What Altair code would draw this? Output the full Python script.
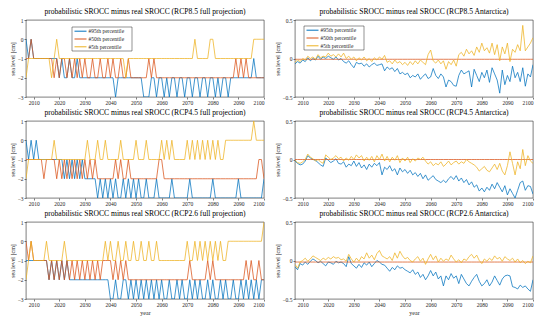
import altair as alt
import pandas as pd

YEARS = list(range(2007, 2101))
XTICKS = [2010, 2020, 2030, 2040, 2050, 2060, 2070, 2080, 2090, 2100]
SERIES = ["#95th percentile", "#50th percentile", "#5th percentile"]
COLORS = ["#0072BD", "#D95319", "#EDB120"]

TITLES = [
    "probabilistic SROCC minus real SROCC (RCP8.5 full projection)",
    "probabilistic SROCC minus real SROCC (RCP8.5 Antarctica)",
    "probabilistic SROCC minus real SROCC (RCP4.5 full projection)",
    "probabilistic SROCC minus real SROCC (RCP4.5 Antarctica)",
    "probabilistic SROCC minus real SROCC (RCP2.6 full projection)",
    "probabilistic SROCC minus real SROCC (RCP2.6 Antarctica)",
]

# ---------------- RCP8.5 full projection [cm] ----------------
BLUE_85F = [0, -1, 0, -1, -1, -1, -1, -1, -1, -1,
            -1, -1, -1, -2, -1, -2, -2, -1, -2, -2,
            -1, -2, -2, -2, -2, -2, -2, -2, -2, -2,
            -2, -2, -2, -2, -2, -3, -2, -2, -2, -2,
            -2, -2, -2, -2, -2, -2, -3, -3, -3, -2,
            -2, -3, -2, -2, -3, -2, -3, -2, -2, -3,
            -2, -2, -3, -2, -2, -3, -2, -2, -3, -2,
            -2, -3, -2, -2, -3, -2, -3, -2, -2, -3,
            -2, -2, -2, -2, -2, -2, -2, -2, -2, -1,
            -2, -2, -2, -2]
ORANGE_85F = [-1, -1, 0, -1, -1, -1, -1, -1, -1, -1,
              -1, -2, -1, -2, -1, -1, -2, -1, -2, -1,
              -2, -1, -2, -1, -2, -2, -1, -2, -2, -1,
              -2, -2, -1, -2, -1, -2, -2, -1, -2, -2,
              -1, -2, -2, -2, -2, -2, -2, -2, -1, -2,
              -1, -2, -2, -2, -2, -2, -2, -2, -2, -2,
              -2, -2, -2, -2, -2, -2, -2, -2, -2, -2,
              -2, -2, -2, -2, -2, -2, -2, -2, -2, -2,
              -2, -2, -1, -2, -1, -2, -1, -2, -2, -2,
              -2, -2, -2, -2]
YELLOW_85F = [-2, -1, -1, -1, -1, -1, -1, -1, -1, -1,
              -2, -1, 0, -1, -1, -1, -1, -1, -1, -1,
              -1, -1, -1, -1, -1, -1, -1, -1, -1, -1,
              -1, -1, -1, -1, -1, -1, -1, -1, -1, -2,
              -1, -1, -1, -1, -1, -1, -1, -1, -1, -1,
              -1, -1, -1, -1, -1, -1, -1, -1, -1, -1,
              -1, -1, -1, -1, -1, -1, 0, -1, -1, -1,
              -1, -1, 0, 0, -1, -1, -1, -1, -1, -1,
              -1, -1, -1, -1, -1, -1, -1, -1, -1, 0,
              0, 0, 0, 0]

# ---------------- RCP8.5 Antarctica [cm] ----------------
BLUE_85A = [-0.07, -0.04, -0.06, -0.02, -0.04, 0.01, -0.03, 0.00, -0.02, 0.03,
            -0.01, 0.02, 0.00, 0.03, 0.01, -0.01, 0.02, -0.02, 0.00, -0.04,
            -0.06, -0.03, -0.08, -0.12, -0.05, -0.07, -0.06, -0.10, -0.07, -0.11,
            -0.08, -0.06, -0.09, -0.08, -0.07, -0.16, -0.11, -0.14, -0.12, -0.17,
            -0.13, -0.20, -0.18, -0.21, -0.19, -0.25, -0.22, -0.24, -0.20, -0.27,
            -0.23, -0.20, -0.26, -0.24, -0.13, -0.22, -0.26, -0.20, -0.24, -0.37,
            -0.28, -0.30, -0.35, -0.36, -0.22, -0.15, -0.20, -0.18, -0.16, -0.37,
            -0.14, -0.22, -0.30, -0.18, -0.25, -0.15, -0.31, -0.12, -0.20, -0.28,
            -0.45, -0.15, -0.34, -0.22, -0.30, -0.10, -0.25, -0.18, -0.30, -0.12,
            -0.36, -0.20, -0.24, -0.08]
ORANGE_85A = [-0.01, -0.01, -0.01, -0.01, -0.01, -0.01, -0.01, -0.01, -0.01, -0.01,
              -0.01, -0.01, -0.01, -0.01, -0.01, -0.01, -0.01, -0.01, -0.01, -0.01,
              -0.01, -0.01, -0.01, -0.01, -0.01, -0.01, -0.01, -0.01, -0.01, -0.01,
              -0.01, -0.01, -0.01, -0.01, -0.01, -0.01, -0.01, -0.01, -0.01, -0.01,
              -0.01, -0.01, -0.01, -0.01, -0.01, -0.01, -0.01, -0.01, -0.01, -0.01,
              -0.01, -0.01, -0.01, -0.01, -0.01, -0.01, -0.01, -0.01, -0.01, -0.01,
              -0.01, -0.01, -0.01, -0.01, -0.01, -0.01, -0.01, -0.01, -0.01, -0.01,
              -0.01, -0.01, -0.01, -0.01, -0.01, -0.01, -0.01, -0.01, -0.01, -0.01,
              -0.01, -0.01, -0.01, -0.01, -0.01, -0.01, -0.01, -0.01, -0.01, -0.01,
              -0.01, -0.01, -0.01, -0.01]
YELLOW_85A = [-0.05, -0.02, -0.04, 0.00, -0.02, 0.03, 0.00, 0.02, -0.01, 0.05,
              0.01, 0.03, 0.02, 0.07, 0.03, 0.05, 0.02, 0.06, 0.02, 0.07,
              0.00, 0.03, -0.01, 0.02, -0.03, 0.01, -0.02, 0.02, -0.03, 0.00,
              -0.04, 0.01, -0.02, 0.02, -0.01, 0.04, -0.05, -0.03, -0.07, -0.02,
              -0.06, -0.04, -0.08, -0.05, -0.09, -0.04, -0.08, -0.03, -0.07, -0.02,
              -0.05, -0.08, 0.05, 0.11, -0.03, -0.06, -0.02, -0.07, -0.03, -0.14,
              -0.04, -0.08, -0.02, -0.10, 0.05, 0.08, 0.03, 0.12, 0.06, 0.10,
              0.04, 0.15, 0.08, 0.20, 0.10, 0.14, 0.07, 0.20, 0.05, 0.18,
              -0.03, 0.15, 0.06, 0.20, -0.04, 0.12, 0.08, 0.18, 0.10, 0.43,
              0.10, 0.15, 0.20, 0.27]

# ---------------- RCP4.5 full projection [cm] ----------------
BLUE_45F = [0, -1, 0, -1, 0, -1, -1, -1, -1, -1,
            -1, -1, -1, -1, -1, -2, -1, -2, -1, -2,
            -1, -2, -1, -2, -2, -2, -2, -2, -3, -2,
            -3, -2, -3, -2, -3, -2, -3, -3, -2, -3,
            -2, -3, -2, -3, -2, -3, -3, -2, -3, -3,
            -3, -2, -3, -3, -3, -3, -3, -2, -3, -3,
            -3, -3, -3, -3, -2, -3, -3, -3, -3, -3,
            -3, -3, -3, -2, -3, -3, -3, -3, -3, -3,
            -3, -3, -3, -2, -3, -3, -3, -3, -3, -3,
            -3, -3, -3, -2]
ORANGE_45F = [-1, -1, -1, -1, -1, -1, -1, -2, -1, -1,
              -1, -1, -2, -1, -2, -1, -2, -1, -2, -1,
              -2, -1, -2, -1, -2, -1, -2, -1, -2, -2,
              -2, -2, -2, -2, -2, -1, -2, -1, -2, -2,
              -1, -2, -2, -2, -2, -2, -2, -2, -2, -2,
              -2, -2, -1, -1, -2, -2, -2, -2, -2, -2,
              -2, -2, -2, -2, -2, -2, -2, -2, -2, -2,
              -2, -2, -2, -2, -2, -2, -2, -2, -2, -2,
              -2, -2, -2, -2, -2, -2, -2, -2, -2, -2,
              -2, -1, -1, -2]
YELLOW_45F = [-2, -1, -1, -1, -1, -1, -1, -1, -1, -1,
              -1, 0, -1, -1, -1, -1, -1, -1, -1, -1,
              -1, -1, -1, -1, 0, -1, -1, -1, 0, -1,
              -1, 0, -1, -1, -1, -1, -1, 0, -1, -1,
              -1, -1, -1, 0, -1, -1, -1, 0, -1, -1,
              -1, -1, -1, 0, -1, 0, -1, 0, -1, -1,
              -1, -1, -1, 0, -1, 0, -1, 0, -1, 0,
              -1, 0, -1, 0, -1, 0, -1, -1, 0, 0,
              0, 0, 0, 0, 0, 0, 0, 0, 0, 1,
              0, 0, 0, 0]

# ---------------- RCP4.5 Antarctica [cm] ----------------
BLUE_45A = [-0.02, -0.05, -0.07, -0.06, -0.02, 0.05, 0.02, 0.00, -0.01, -0.04,
            -0.07, -0.09, 0.02, -0.01, -0.04, -0.02, 0.01, -0.05, -0.06, -0.03,
            -0.10, -0.06, -0.08, -0.02, -0.09, -0.04, -0.11, -0.07, -0.13, -0.06,
            -0.10, -0.05, -0.08, -0.04, -0.20, -0.10, -0.13, -0.08, -0.15, -0.12,
            -0.20, -0.11, -0.16, -0.13, -0.18, -0.14, -0.20, -0.17, -0.22, -0.18,
            -0.25, -0.20, -0.27, -0.24, -0.21, -0.26, -0.28, -0.30, -0.27, -0.30,
            -0.25, -0.22, -0.26, -0.21, -0.28, -0.24, -0.30, -0.26, -0.33, -0.29,
            -0.36, -0.33, -0.41, -0.37, -0.42, -0.36, -0.40, -0.32, -0.38, -0.30,
            -0.36, -0.42, -0.34, -0.46, -0.38, -0.44, -0.50, -0.40, -0.30, -0.28,
            -0.40, -0.34, -0.35, -0.45]
ORANGE_45A = [0.00, 0.00, 0.00, 0.00, 0.00, 0.00, 0.00, 0.00, 0.00, 0.00,
              0.00, 0.00, 0.00, 0.00, 0.00, 0.00, 0.00, 0.00, 0.00, 0.00,
              0.00, 0.00, 0.00, 0.00, 0.00, 0.00, 0.00, 0.00, 0.00, 0.00,
              0.00, 0.00, 0.00, 0.00, 0.00, 0.00, 0.00, 0.00, 0.00, 0.00,
              0.00, 0.00, 0.00, 0.00, 0.00, 0.00, 0.00, 0.00, 0.00, 0.00,
              0.00, 0.00, 0.00, 0.00, 0.00, 0.00, 0.00, 0.00, 0.00, 0.00,
              0.00, 0.00, 0.00, 0.00, 0.00, 0.00, 0.00, 0.00, 0.00, 0.00,
              0.00, 0.00, 0.00, 0.00, 0.00, 0.00, 0.00, 0.00, 0.00, 0.00,
              0.00, 0.00, 0.00, 0.00, 0.00, 0.00, 0.00, 0.00, 0.00, 0.00,
              0.00, 0.00, 0.00, 0.00]
YELLOW_45A = [-0.01, -0.04, -0.05, -0.03, 0.00, 0.07, 0.03, 0.01, -0.02, 0.00,
              -0.03, -0.05, 0.06, 0.03, 0.00, 0.02, 0.05, 0.01, 0.03, -0.02,
              0.02, -0.01, 0.04, 0.00, 0.06, 0.02, 0.05, -0.02, 0.03, -0.01,
              0.04, -0.03, 0.05, 0.00, 0.07, -0.02, 0.04, -0.03, 0.03, -0.01,
              0.05, -0.04, 0.02, -0.02, 0.03, -0.04, 0.01, -0.02, 0.02, 0.00,
              0.03, -0.02, -0.06, -0.03, -0.08, -0.05, -0.07, -0.03, -0.09, -0.06,
              -0.02, -0.07, -0.04, -0.02, -0.06, -0.03, -0.05, 0.00, -0.03, -0.05,
              -0.07, -0.10, -0.15, -0.12, -0.09, -0.14, -0.16, -0.11, -0.06, -0.13,
              -0.05, -0.15, -0.20, -0.08, 0.10, -0.05, -0.20, -0.03, -0.12, 0.13,
              -0.08, 0.05, -0.02, -0.05]

# ---------------- RCP2.6 full projection [cm] ----------------
BLUE_26F = [-1, -1, -1, -1, -1, -1, -1, -1, -1, -2,
            -1, -2, -1, -2, -1, -2, -1, -2, -2, -2,
            -2, -2, -2, -2, -2, -2, -2, -2, -2, -2,
            -2, -2, -2, -3, -3, -2, -3, -3, -2, -2,
            -3, -2, -3, -2, -3, -2, -3, -2, -3, -2,
            -3, -2, -3, -2, -3, -3, -2, -3, -3, -2,
            -3, -2, -3, -3, -2, -3, -2, -3, -2, -3,
            -3, -2, -3, -2, -3, -3, -2, -3, -2, -3,
            -3, -2, -3, -3, -2, -3, -2, -3, -2, -3,
            -2, -3, -2, -2]
ORANGE_26F = [0, -1, 0, -1, -1, -1, -1, -1, -1, -2,
              -1, -2, -1, -2, -1, -2, -1, -2, -1, -2,
              -1, -2, -1, -2, -1, -2, -1, -2, -1, -2,
              -1, -1, -1, -1, -2, -1, -2, -1, -2, -1,
              -2, -2, -2, -2, -2, -2, -2, -2, -2, -2,
              -2, -2, -2, -2, -2, -2, -2, -2, -2, -2,
              -2, -2, -2, -2, -1, -2, -2, -2, -2, -2,
              -2, -1, -2, -1, -2, -2, -2, -2, -2, -2,
              -2, -2, -2, -2, -2, -2, -1, -2, -1, -2,
              -2, -1, -2, -2]
YELLOW_26F = [-2, -1, 0, -1, -1, -1, -1, -1, 0, -1,
              -1, -1, -1, -1, -1, 0, -1, -1, -1, -1,
              -1, -1, -1, -1, -1, -1, -1, -1, -1, -1,
              -1, 0, -1, 0, -1, -1, 0, -1, -1, 0,
              -1, -1, 0, -1, -1, 0, -1, -1, 0, -1,
              -1, 0, -1, -1, -1, -1, -1, -1, -1, -1,
              -1, -1, -1, 0, -1, -1, 0, -1, 0, -1,
              0, -1, 0, -1, 0, -1, 0, -1, -1, 0,
              0, 0, 0, 0, 0, 0, 0, 0, 0, 0,
              0, 0, 0, 1]

# ---------------- RCP2.6 Antarctica [cm] ----------------
BLUE_26A = [-0.08, -0.12, -0.04, -0.06, -0.02, -0.05, -0.01, 0.02, 0.00, -0.03,
            -0.01, -0.04, -0.07, -0.02, -0.03, -0.05, -0.01, -0.03, -0.02, -0.04,
            -0.08, 0.05, -0.04, -0.07, -0.10, -0.05, -0.09, -0.03, -0.06, -0.02,
            -0.08, -0.04, 0.00, -0.02, -0.05, -0.06, -0.10, -0.14, -0.09, -0.12,
            -0.07, -0.10, -0.09, -0.12, -0.14, -0.16, -0.12, -0.18, -0.15, -0.22,
            -0.18, -0.25, -0.20, -0.13, -0.20, -0.15, -0.24, -0.20, -0.33, -0.20,
            -0.25, -0.17, -0.23, -0.20, -0.30, -0.18, -0.24, -0.30, -0.33, -0.27,
            -0.22, -0.18, -0.27, -0.33, -0.30, -0.25, -0.33, -0.28, -0.20, -0.26,
            -0.32, -0.24, -0.20, -0.19, -0.20, -0.34, -0.35, -0.37, -0.32, -0.35,
            -0.33, -0.37, -0.40, -0.25]
ORANGE_26A = [-0.02, -0.02, -0.02, -0.02, -0.02, -0.02, -0.02, -0.02, -0.02, -0.02,
              -0.02, -0.02, -0.02, -0.02, -0.02, -0.02, -0.02, -0.02, -0.02, -0.02,
              -0.02, -0.02, -0.02, -0.02, -0.02, -0.02, -0.02, -0.02, -0.02, -0.02,
              -0.02, -0.02, -0.02, -0.02, -0.02, -0.02, -0.02, -0.02, -0.02, -0.02,
              -0.02, -0.02, -0.02, -0.02, -0.02, -0.02, -0.02, -0.02, -0.02, -0.02,
              -0.02, -0.02, -0.02, -0.02, -0.02, -0.02, -0.02, -0.02, -0.02, -0.02,
              -0.02, -0.02, -0.02, -0.02, -0.02, -0.02, -0.02, -0.02, -0.02, -0.02,
              -0.02, -0.02, -0.02, -0.02, -0.02, -0.02, -0.02, -0.02, -0.02, -0.02,
              -0.02, -0.02, -0.02, -0.02, -0.02, -0.02, -0.02, -0.02, -0.02, -0.02,
              -0.02, -0.02, -0.02, -0.02]
YELLOW_26A = [-0.05, -0.10, -0.02, 0.00, 0.03, -0.01, 0.02, 0.06, 0.04, 0.02,
              0.00, 0.03, 0.01, 0.04, 0.02, 0.05, 0.03, 0.04, 0.01, 0.02,
              -0.01, 0.08, 0.02, -0.02, 0.03, -0.01, 0.05, 0.02, 0.10, 0.03,
              0.07, 0.01, 0.09, 0.13, 0.06, 0.04, 0.02, 0.05, 0.00, 0.10,
              0.03, 0.12, 0.06, 0.02, 0.04, 0.00, -0.02, 0.02, 0.05, -0.01,
              0.03, -0.05, 0.02, 0.08, 0.01, 0.06, -0.02, 0.03, -0.01, 0.02,
              0.00, 0.07, 0.02, -0.02, 0.01, -0.03, 0.02, 0.00, 0.05, 0.08,
              0.03, 0.07, 0.00, -0.04, 0.02, -0.01, 0.03, 0.00, 0.06, 0.02,
              0.04, -0.01, 0.05, 0.02, 0.00, 0.03, -0.02, 0.02, -0.03, 0.00,
              -0.04, -0.01, -0.03, 0.06]

FONT = "Liberation Serif"
INK = "#262626"
W, H = 238, 77
LW = 0.75
COLOR_SCALE = alt.Scale(domain=SERIES, range=COLORS)


def make_df(blue, orange, yellow):
    rows = []
    for name, vals in zip(SERIES, [blue, orange, yellow]):
        if len(vals) != len(YEARS):
            raise ValueError(f"{name}: {len(vals)} values")
        for yr, v in zip(YEARS, vals):
            rows.append({"year": yr, "value": float(v), "series": name})
    return pd.DataFrame(rows)


def legend_layers(lx, ly, bw=60, bh=24):
    """In-plot legend box (MATLAB style) drawn as marks."""
    ldf = pd.DataFrame({"series": SERIES, "row": [0, 1, 2]})
    yscale = alt.Scale(domain=[0, 2], range=[ly + 4.2, ly + 19.8])
    box = alt.Chart(pd.DataFrame({"k": [0]})).mark_rect(
        fill="white", stroke=INK, strokeWidth=0.5
    ).encode(x=alt.value(lx), x2=alt.value(lx + bw), y=alt.value(ly), y2=alt.value(ly + bh))
    sym = alt.Chart(ldf).mark_rule(strokeWidth=1).encode(
        x=alt.value(lx + 2.5), x2=alt.value(lx + 14.5),
        y=alt.Y("row:Q", scale=yscale, axis=None),
        color=alt.Color("series:N", scale=COLOR_SCALE, legend=None),
    )
    txt = alt.Chart(ldf).mark_text(
        align="left", baseline="middle", fontSize=5.5, font=FONT, color=INK
    ).encode(
        x=alt.value(lx + 16.5),
        y=alt.Y("row:Q", scale=yscale, axis=None),
        text="series:N",
    )
    return [box, sym, txt]


def panel(df, title, ydom, yticks, yfmt, legend_xy=None, xtitle=False):
    xaxis = dict(values=XTICKS, format="d")
    xaxis["title"] = "year" if xtitle else None
    lines = alt.Chart(df).mark_line(strokeWidth=LW, clip=True).encode(
        x=alt.X("year:Q", scale=alt.Scale(domain=[2007, 2100], nice=False, zero=False),
                axis=alt.Axis(**xaxis)),
        y=alt.Y("value:Q", scale=alt.Scale(domain=ydom, nice=False, zero=False),
                axis=alt.Axis(values=yticks, format=yfmt, title="sea level [cm]")),
        color=alt.Color("series:N", scale=COLOR_SCALE, sort=SERIES, legend=None),
    )
    layers = [lines]
    if legend_xy is not None:
        layers += legend_layers(*legend_xy)
    ch = alt.layer(*layers)
    if legend_xy is not None:
        ch = ch.resolve_scale(y="independent")
    return ch.properties(width=W, height=H,
                         title=alt.TitleParams(title, fontSize=7.6, font=FONT,
                                               fontWeight="normal", offset=2, color="black"))


FULL_DOM, FULL_TICKS = [-3, 1], [-3, -2, -1, 0, 1]
ANT_DOM, ANT_TICKS = [-0.5, 0.5], [-0.5, 0, 0.5]

p1 = panel(make_df(BLUE_85F, ORANGE_85F, YELLOW_85F), TITLES[0], FULL_DOM, FULL_TICKS, "d", (46, 7))
p2 = panel(make_df(BLUE_85A, ORANGE_85A, YELLOW_85A), TITLES[1], ANT_DOM, ANT_TICKS, "~g", (9, 6))
p3 = panel(make_df(BLUE_45F, ORANGE_45F, YELLOW_45F), TITLES[2], FULL_DOM, FULL_TICKS, "d")
p4 = panel(make_df(BLUE_45A, ORANGE_45A, YELLOW_45A), TITLES[3], ANT_DOM, ANT_TICKS, "~g")
p5 = panel(make_df(BLUE_26F, ORANGE_26F, YELLOW_26F), TITLES[4], FULL_DOM, FULL_TICKS, "d", xtitle=True)
p6 = panel(make_df(BLUE_26A, ORANGE_26A, YELLOW_26A), TITLES[5], ANT_DOM, ANT_TICKS, "~g", xtitle=True)

HS, VS = 8, 3
chart = alt.vconcat(
    alt.hconcat(p1, p2, spacing=HS),
    alt.hconcat(p3, p4, spacing=HS),
    alt.hconcat(p5, p6, spacing=HS),
    spacing=VS,
).properties(padding=0).configure(font=FONT).configure_view(
    stroke=INK, strokeWidth=0.6
).configure_axis(
    labelFont=FONT, titleFont=FONT, labelFontSize=5.5, titleFontSize=6,
    labelColor=INK, titleColor=INK, tickColor=INK, tickSize=2, tickWidth=0.6,
    domain=False, grid=False, labelPadding=1, titlePadding=2,
    titleFontWeight="normal",
)

chart.save("out.html", embed_options={"renderer": "svg", "actions": False})
